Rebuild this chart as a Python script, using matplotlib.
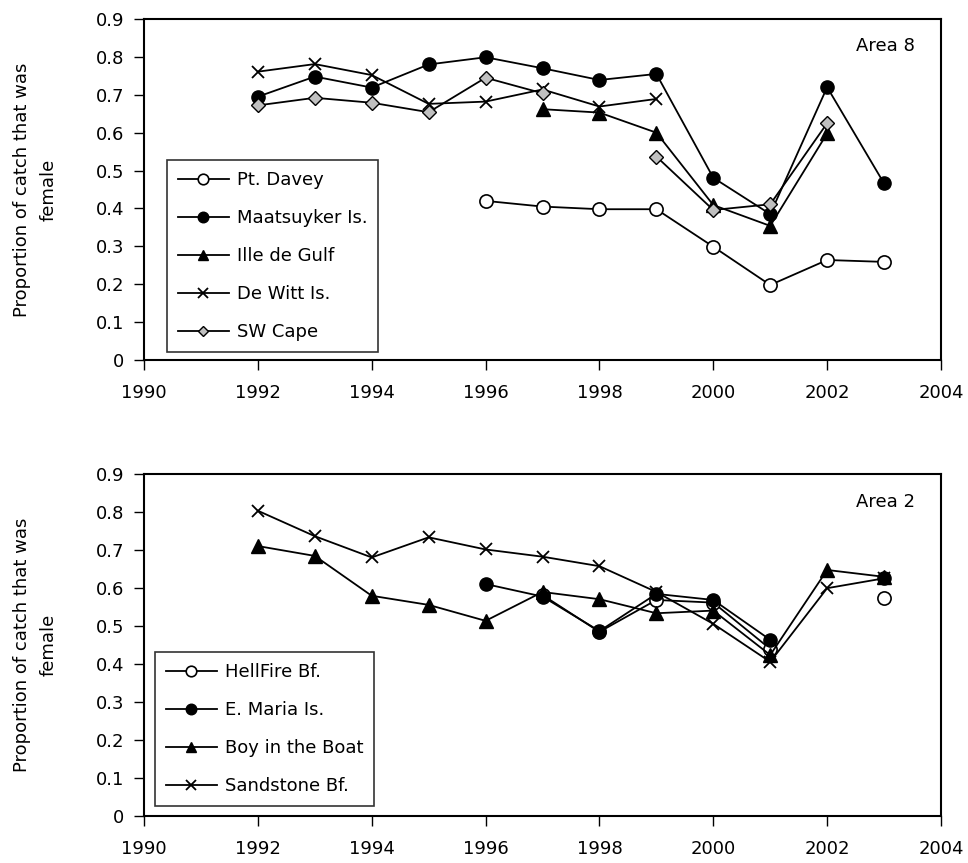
import numpy as np
import matplotlib
matplotlib.use("Agg")
import matplotlib.pyplot as plt

plt.rcParams['font.family'] = ['DejaVu Sans']
FS = 13

years = [1992, 1993, 1994, 1995, 1996, 1997, 1998, 1999, 2000, 2001, 2002, 2003]
nan = np.nan

# Area 8
pt_davey = [nan, nan, nan, nan, 0.420, 0.405, 0.398, 0.398, 0.299, 0.198, 0.264, 0.259]
maatsuyker = [0.695, 0.748, 0.719, 0.780, 0.799, 0.770, 0.739, 0.755, 0.481, 0.385, 0.720, 0.466]
ille_de_gulf = [nan, nan, nan, nan, nan, 0.662, 0.653, 0.600, 0.409, 0.354, 0.598, nan]
de_witt = [0.761, 0.781, 0.752, 0.676, 0.682, 0.714, 0.669, 0.689, nan, nan, nan, nan]
sw_cape = [0.672, 0.692, 0.679, 0.654, 0.745, 0.704, nan, 0.537, 0.396, 0.411, 0.625, nan]

# Area 2
hellfire = [nan, nan, nan, nan, nan, 0.582, 0.485, 0.569, 0.562, 0.440, nan, 0.575]
e_maria = [nan, nan, nan, nan, 0.611, 0.578, 0.487, 0.585, 0.569, 0.464, nan, 0.626]
boy_boat = [0.711, 0.685, 0.580, 0.556, 0.514, 0.590, 0.571, 0.534, 0.541, 0.424, 0.648, 0.630]
sandstone = [0.804, 0.737, 0.681, 0.734, 0.702, 0.683, 0.658, 0.590, 0.506, 0.406, 0.600, 0.626]

styles = {
    'open': dict(marker='o', mfc='white', mec='black', ms=9.5, mew=1.2),
    'filled': dict(marker='o', mfc='black', mec='black', ms=9.5),
    'tri': dict(marker='^', mfc='black', mec='black', ms=9.5),
    'x': dict(marker='x', mec='black', ms=9, mew=1.3),
    'dia': dict(marker='D', mfc='#c0c0c0', mec='black', ms=7, mew=1.0),
}

fig = plt.figure(figsize=(9.68, 8.63), dpi=100)
ax1 = fig.add_axes([0.1488, 0.5828, 0.8233, 0.3952])
ax2 = fig.add_axes([0.1488, 0.0545, 0.8233, 0.3959])


def draw(ax, series, area, leg_anchor, area_y):
    for label, vals, st in series:
        ax.plot(years, vals, color='black', lw=1.3, label=label, **styles[st])
    ax.set_xlim(1990, 2004)
    ax.set_ylim(0, 0.9)
    ax.set_xticks(range(1990, 2005, 2))
    yt = np.round(np.arange(0, 0.91, 0.1), 1)
    ax.set_yticks(yt)
    ax.set_yticklabels(['0'] + ['%.1f' % v for v in yt[1:]])
    ax.tick_params(direction='out', length=7, width=1, labelsize=FS)
    ax.tick_params(axis='x', pad=10)
    ax.tick_params(axis='y', pad=7)
    for s in ax.spines.values():
        s.set_linewidth(1.5)
    ax.set_ylabel('Proportion of catch that was\nfemale', fontsize=FS,
                  labelpad=28, linespacing=1.6)
    ax.text(0.967, area_y, area, transform=ax.transAxes, ha='right', va='center',
            fontsize=FS)
    leg = ax.legend(loc='lower left', bbox_to_anchor=leg_anchor, frameon=True,
                    fancybox=False, edgecolor='black', fontsize=FS,
                    handlelength=2.8, handletextpad=0.45, labelspacing=1.11,
                    borderpad=0.6, borderaxespad=0, markerscale=0.8)
    leg.get_frame().set_linewidth(1.2)


draw(ax1, [('Pt. Davey', pt_davey, 'open'),
           ('Maatsuyker Is.', maatsuyker, 'filled'),
           ('Ille de Gulf', ille_de_gulf, 'tri'),
           ('De Witt Is.', de_witt, 'x'),
           ('SW Cape', sw_cape, 'dia')], 'Area 8', (0.029, 0.023), 0.922)

draw(ax2, [('HellFire Bf.', hellfire, 'open'),
           ('E. Maria Is.', e_maria, 'filled'),
           ('Boy in the Boat', boy_boat, 'tri'),
           ('Sandstone Bf.', sandstone, 'x')], 'Area 2', (0.014, 0.029), 0.92)

fig.savefig('out.png', dpi=100)
